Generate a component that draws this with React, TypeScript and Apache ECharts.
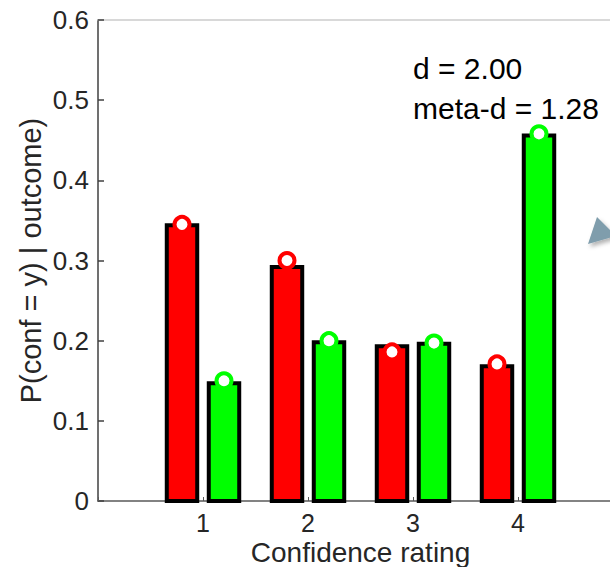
import React, { useEffect, useRef } from "react";
import * as echarts from "echarts";

const categories = [1, 2, 3, 4];
const redBars = [0.344, 0.292, 0.193, 0.168];
const greenBars = [0.147, 0.198, 0.196, 0.456];
const redDots = [0.345, 0.300, 0.186, 0.171];
const greenDots = [0.150, 0.200, 0.197, 0.458];
const yTicks = [0, 0.1, 0.2, 0.3, 0.4, 0.5, 0.6];
const annotations = ["d = 2.00", "meta-d = 1.28"];

const FONT = "'Liberation Sans', Arial, Helvetica, sans-serif";
const RED = "#ff0000";
const GREEN = "#00ff00";
const OFFSET = 0.2;
const HALF_W = 0.145;

function barSeries(values: number[], offset: number, color: string) {
  return {
    type: "custom",
    renderItem: (_p: any, api: any) => {
      const x = api.value(0) + offset;
      const y = api.value(1);
      const p0 = api.coord([x - HALF_W, y]);
      const p1 = api.coord([x + HALF_W, 0]);
      return {
        type: "rect",
        shape: { x: p0[0], y: p0[1], width: p1[0] - p0[0], height: p1[1] - p0[1] },
        style: { fill: color, stroke: "#000", lineWidth: 4 },
      };
    },
    data: categories.map((c, i) => [c, values[i]]),
    z: 2,
  };
}

function dotSeries(values: number[], offset: number, color: string) {
  return {
    type: "custom",
    renderItem: (_p: any, api: any) => {
      const pt = api.coord([api.value(0) + offset, api.value(1)]);
      return {
        type: "circle",
        shape: { cx: pt[0], cy: pt[1], r: 7.5 },
        style: { fill: "#fff", stroke: color, lineWidth: 4 },
      };
    },
    data: categories.map((c, i) => [c, values[i]]),
    z: 3,
  };
}

export default function App() {
  const ref = useRef<HTMLDivElement>(null);
  useEffect(() => {
    if (!ref.current) return;
    const chart = echarts.init(ref.current, null, { renderer: "svg" });
    chart.setOption({
      animation: false,
      backgroundColor: "#fff",
      grid: { left: 98, top: 20, bottom: 66, width: 525, outerBoundsMode: "none", containLabel: false },
      xAxis: [
        {
          type: "value",
          min: 0,
          max: 5,
          interval: 1,
          name: "Confidence rating",
          nameLocation: "middle",
          nameGap: 37,
          nameMoveOverlap: false,
          nameTextStyle: { fontFamily: FONT, fontSize: 28, lineHeight: 28, color: "#262626" },
          axisLine: { show: true, lineStyle: { color: "#5a5a5a", width: 1.5 } },
          axisTick: { show: true, inside: true, length: 4, lineStyle: { color: "#5a5a5a" } },
          axisLabel: {
            margin: 9,
            fontFamily: FONT,
            fontSize: 25,
            lineHeight: 25,
            color: "#262626",
            formatter: (v: number) => (categories.indexOf(v) >= 0 ? String(v) : ""),
          },
          splitLine: { show: false },
        },
        {
          type: "value",
          position: "top",
          min: 0,
          max: 5,
          axisLine: { show: true, lineStyle: { color: "#cccccc", width: 1.5 } },
          axisTick: { show: false },
          axisLabel: { show: false },
          splitLine: { show: false },
        },
      ],
      yAxis: {
        type: "value",
        min: yTicks[0],
        max: yTicks[yTicks.length - 1],
        interval: 0.1,
        name: "P(conf = y) | outcome)",
        nameLocation: "middle",
        nameGap: 53,
        nameMoveOverlap: false,
        nameTextStyle: { fontFamily: FONT, fontSize: 29, color: "#262626" },
        axisLine: { show: true, lineStyle: { color: "#404040", width: 1.5 } },
        axisTick: { show: true, inside: true, length: 6, lineStyle: { color: "#404040", width: 1.5 } },
        axisLabel: {
          margin: 9,
          fontFamily: FONT,
          fontSize: 26,
          color: "#262626",
          formatter: (v: number) => (v === 0 ? "0" : v.toFixed(1)),
        },
        splitLine: { show: false },
      },
      series: [
        barSeries(redBars, -OFFSET, RED),
        barSeries(greenBars, OFFSET, GREEN),
        dotSeries(redDots, -OFFSET, RED),
        dotSeries(greenDots, OFFSET, GREEN),
      ],
      graphic: [
        ...annotations.map((t, i) => ({
          type: "text",
          x: 413,
          y: 68 + i * 40,
          z: 10,
          style: { text: t, font: `30px ${FONT}`, fill: "#000", verticalAlign: "middle" },
        })),
        {
          type: "polygon",
          z: 10,
          shape: { points: [[588, 244], [597, 217], [616, 236]] },
          style: {
            fill: "#7f9dac",
            shadowBlur: 4,
            shadowOffsetX: 2,
            shadowOffsetY: 3,
            shadowColor: "rgba(0,0,0,0.3)",
          },
        },
      ],
    });
    return () => chart.dispose();
  }, []);
  return (
    <div
      ref={ref}
      style={{ position: "fixed", left: 0, top: 0, width: 610, height: 567 }}
    />
  );
}
